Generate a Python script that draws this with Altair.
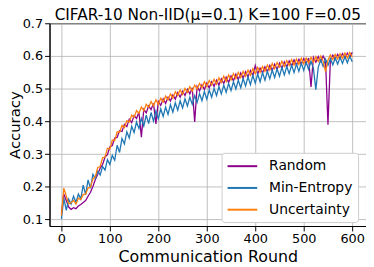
import altair as alt
import pandas as pd

rounds = list(range(0, 601, 5))

uncertainty = [
    0.112, 0.196, 0.172, 0.148, 0.151, 0.158, 0.147, 0.165, 0.161, 0.176,
    0.178, 0.196, 0.199, 0.224, 0.231, 0.259, 0.262, 0.289, 0.291, 0.318,
    0.316, 0.343, 0.341, 0.368, 0.366, 0.388, 0.381, 0.402, 0.398, 0.419,
    0.413, 0.433, 0.424, 0.444, 0.432, 0.452, 0.443, 0.461, 0.447, 0.466,
    0.452, 0.471, 0.459, 0.477, 0.466, 0.484, 0.471, 0.491, 0.479, 0.496,
    0.482, 0.501, 0.489, 0.506, 0.493, 0.511, 0.499, 0.516, 0.503, 0.521,
    0.507, 0.525, 0.511, 0.529, 0.514, 0.533, 0.519, 0.538, 0.522, 0.542,
    0.527, 0.546, 0.531, 0.550, 0.534, 0.553, 0.538, 0.557, 0.541, 0.561,
    0.546, 0.565, 0.550, 0.568, 0.553, 0.572, 0.557, 0.577, 0.561, 0.580,
    0.566, 0.584, 0.568, 0.586, 0.571, 0.589, 0.572, 0.591, 0.574, 0.593,
    0.576, 0.594, 0.579, 0.596, 0.581, 0.598, 0.583, 0.600, 0.584, 0.552,
    0.587, 0.603, 0.589, 0.605, 0.591, 0.607, 0.592, 0.609, 0.594, 0.611,
    0.597,
]

random_sel = [
    0.118, 0.178, 0.158, 0.138, 0.131, 0.136, 0.133, 0.141, 0.146, 0.152,
    0.158, 0.171, 0.183, 0.201, 0.222, 0.238, 0.257, 0.268, 0.291, 0.298,
    0.322, 0.326, 0.349, 0.351, 0.372, 0.369, 0.391, 0.384, 0.407, 0.396,
    0.418, 0.409, 0.429, 0.352, 0.437, 0.426, 0.447, 0.436, 0.455, 0.392,
    0.461, 0.449, 0.469, 0.455, 0.474, 0.462, 0.481, 0.468, 0.488, 0.474,
    0.492, 0.479, 0.498, 0.484, 0.503, 0.398, 0.507, 0.493, 0.512, 0.497,
    0.517, 0.502, 0.521, 0.507, 0.526, 0.511, 0.530, 0.516, 0.535, 0.519,
    0.539, 0.524, 0.544, 0.528, 0.548, 0.532, 0.552, 0.536, 0.556, 0.540,
    0.571, 0.545, 0.563, 0.548, 0.567, 0.552, 0.571, 0.556, 0.575, 0.559,
    0.578, 0.562, 0.582, 0.566, 0.585, 0.569, 0.588, 0.572, 0.590, 0.575,
    0.592, 0.577, 0.594, 0.505, 0.596, 0.581, 0.598, 0.583, 0.600, 0.585,
    0.390, 0.588, 0.603, 0.590, 0.605, 0.592, 0.607, 0.594, 0.609, 0.596,
    0.611,
]

min_entropy = [
    0.102, 0.165, 0.128, 0.162, 0.147, 0.171, 0.152, 0.178, 0.163, 0.205,
    0.176, 0.221, 0.195, 0.238, 0.226, 0.248, 0.236, 0.262, 0.251, 0.283,
    0.268, 0.296, 0.281, 0.327, 0.305, 0.348, 0.331, 0.368, 0.349, 0.385,
    0.366, 0.398, 0.378, 0.409, 0.386, 0.419, 0.393, 0.427, 0.401, 0.432,
    0.408, 0.438, 0.415, 0.444, 0.421, 0.451, 0.428, 0.457, 0.434, 0.463,
    0.441, 0.469, 0.447, 0.474, 0.452, 0.479, 0.458, 0.485, 0.463, 0.491,
    0.468, 0.496, 0.474, 0.501, 0.479, 0.506, 0.484, 0.511, 0.489, 0.516,
    0.494, 0.521, 0.499, 0.526, 0.503, 0.531, 0.508, 0.536, 0.512, 0.541,
    0.517, 0.545, 0.521, 0.549, 0.526, 0.553, 0.530, 0.557, 0.534, 0.561,
    0.538, 0.565, 0.542, 0.568, 0.546, 0.572, 0.549, 0.575, 0.553, 0.578,
    0.556, 0.581, 0.559, 0.584, 0.562, 0.497, 0.566, 0.588, 0.568, 0.590,
    0.571, 0.592, 0.573, 0.594, 0.575, 0.596, 0.577, 0.598, 0.579, 0.600,
    0.582,
]

series_names = ["Random", "Min-Entropy", "Uncertainty"]
series_colors = ["#8b008b", "#1f77b4", "#ff7f0e"]
series_values = [random_sel, min_entropy, uncertainty]
title_text = "CIFAR-10 Non-IID(μ=0.1) K=100 F=0.05"
x_ticks = [0, 100, 200, 300, 400, 500, 600]
y_ticks = [0.1, 0.2, 0.3, 0.4, 0.5, 0.6, 0.7]

W, H = 320, 205

frames = []
for name, vals in zip(series_names, series_values):
    frames.append(pd.DataFrame({"round": rounds, "acc": vals, "method": name}))

color = alt.Color(
    "method:N",
    scale=alt.Scale(domain=series_names, range=series_colors),
    legend=alt.Legend(
        title=None,
        orient="none",
        legendX=174,
        legendY=131,
        symbolType="M-1,0H3",
        symbolSize=225,
        symbolStrokeWidth=2,
        labelFontSize=14,
        labelFont="DejaVu Sans",
        labelColor="black",
        labelOffset=26,
        rowPadding=6,
        padding=5,
        fillColor="white",
        strokeColor="#cccccc",
        cornerRadius=3,
    ),
)

xenc = alt.X(
    "round:Q",
    scale=alt.Scale(domain=[-24.5, 628.5], nice=False, zero=False),
    axis=alt.Axis(values=x_ticks, title="Communication Round", format="d",
                  titleFontSize=16, titlePadding=3),
)
yenc = alt.Y(
    "acc:Q",
    scale=alt.Scale(domain=[0.08, 0.7], nice=False, zero=False),
    axis=alt.Axis(values=y_ticks, title="Accuracy", format=".1f",
                  titleFontSize=15, titlePadding=0),
)

layers = [
    alt.Chart(df).mark_line(strokeWidth=1.3, clip=True).encode(x=xenc, y=yenc, color=color)
    for df in frames
]

title_layer = alt.Chart(pd.DataFrame({"t": [title_text]})).mark_text(
    align="center", baseline="alphabetic", font="DejaVu Sans", fontSize=15.5, color="black"
).encode(text="t:N", x=alt.value(W / 2), y=alt.value(-3))

chart = alt.layer(*layers, title_layer).properties(
    width=W,
    height=H,
    autosize=alt.AutoSizeParams(type="none"),
    padding={"left": 42, "top": 14, "right": 0, "bottom": 40},
).configure_view(
    stroke="black", strokeWidth=1
).configure_axis(
    grid=True,
    gridColor="#b0b0b0",
    gridWidth=0.8,
    domainColor="black",
    tickColor="black",
    tickSize=5,
    labelPadding=2,
    labelColor="black",
    labelFont="DejaVu Sans",
    labelFontSize=13,
    titleFont="DejaVu Sans",
    titleFontWeight="normal",
    titleColor="black",
)

chart.save("out.html", embed_options={"renderer": "svg", "actions": False})
